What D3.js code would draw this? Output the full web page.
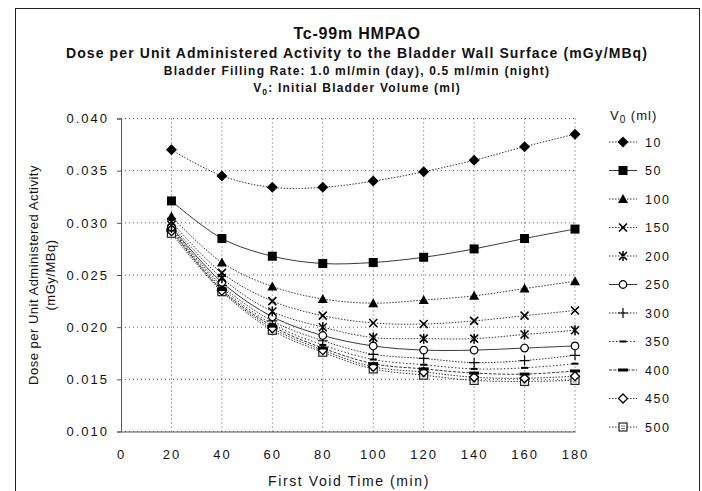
<!DOCTYPE html>
<html>
<head>
<meta charset="utf-8">
<script src="https://cdn.jsdelivr.net/npm/d3@7"></script>
<style>
  body { margin: 0; background: #fff; }
  svg { display: block; }
  text { font-family: "Liberation Sans", Arial, Helvetica, sans-serif; fill: #111; }
</style>
</head>
<body>
<svg id="chart" width="702" height="491"></svg>
<script>
// First void time (min) on the x axis
const voidTimes = [20, 40, 60, 80, 100, 120, 140, 160, 180];
// Initial bladder volumes V0 (ml), one curve each
const volumes = [10, 50, 100, 150, 200, 250, 300, 350, 400, 450, 500];

// Dose per unit administered activity (mGy/MBq), one array per V0
const dose10  = [0.0370, 0.0345, 0.0334, 0.0334, 0.0340, 0.0349, 0.0360, 0.0373, 0.0385];
const dose50  = [0.0321, 0.0285, 0.0268, 0.0261, 0.0262, 0.0267, 0.0275, 0.0285, 0.0294];
const dose100 = [0.0306, 0.0262, 0.0239, 0.0227, 0.0223, 0.0226, 0.0230, 0.0237, 0.0244];
const dose150 = [0.0301, 0.0252, 0.0225, 0.0211, 0.0204, 0.0203, 0.0206, 0.0211, 0.0216];
const dose200 = [0.0298, 0.0247, 0.0215, 0.0200, 0.0190, 0.0189, 0.0189, 0.0193, 0.0197];
const dose250 = [0.0296, 0.0243, 0.0210, 0.0192, 0.0182, 0.0178, 0.0178, 0.0180, 0.0182];
const dose300 = [0.0295, 0.0240, 0.0206, 0.0187, 0.0174, 0.0170, 0.0166, 0.0168, 0.0173];
const dose350 = [0.0294, 0.0238, 0.0203, 0.0183, 0.0169, 0.0164, 0.0160, 0.0161, 0.0165];
const dose400 = [0.0293, 0.0236, 0.0201, 0.0180, 0.0165, 0.0160, 0.0156, 0.0155, 0.0158];
const dose450 = [0.0292, 0.0235, 0.0199, 0.0178, 0.0162, 0.0157, 0.0152, 0.0151, 0.0153];
const dose500 = [0.0290, 0.0234, 0.0197, 0.0176, 0.0160, 0.0154, 0.0149, 0.0148, 0.0149];

const xTicks = [0, 20, 40, 60, 80, 100, 120, 140, 160, 180];
const yTicks = [0.010, 0.015, 0.020, 0.025, 0.030, 0.035, 0.040];

const doseByVolume = [dose10, dose50, dose100, dose150, dose200, dose250,
                      dose300, dose350, dose400, dose450, dose500];

// Marker and line style for each curve
const markerKinds = ["diamond", "square", "triangle", "x", "star", "circle",
                     "plus", "dash", "bar", "odiamond", "osquare"];
const lineDash = ["1.5,1.5", null, "1.5,1.5", "1.5,1.5", "1.5,1.5", null,
                  "1.5,1.5", "1.5,2", "3,1.5", "1.5,1.5", "1.5,1.5"];

const svg = d3.select("#chart");

// outer chart border
svg.append("rect")
  .attr("x", 15.5).attr("y", 8.5).attr("width", 684).attr("height", 500)
  .attr("fill", "none").attr("stroke", "#222").attr("stroke-width", 1);

const x = d3.scaleLinear().domain([0, 180]).range([121, 575]);
const y = d3.scaleLinear().domain([0.010, 0.040]).range([431.5, 118.5]);

// titles
const cx = 357;
svg.append("text").attr("x", cx).attr("y", 39).attr("text-anchor", "middle")
  .style("font-size", "16px").style("font-weight", "bold").style("letter-spacing", "0.8px")
  .text("Tc-99m HMPAO");
svg.append("text").attr("x", cx).attr("y", 58).attr("text-anchor", "middle")
  .style("font-size", "14px").style("font-weight", "bold").style("letter-spacing", "1.1px")
  .text("Dose per Unit Administered Activity to the Bladder Wall Surface (mGy/MBq)");
svg.append("text").attr("x", cx).attr("y", 75).attr("text-anchor", "middle")
  .style("font-size", "12px").style("font-weight", "bold").style("letter-spacing", "1.2px")
  .text("Bladder Filling Rate: 1.0 ml/min (day), 0.5 ml/min (night)");
const v0Line = svg.append("text").attr("x", cx).attr("y", 92).attr("text-anchor", "middle")
  .style("font-size", "12px").style("font-weight", "bold").style("letter-spacing", "1.2px");
v0Line.append("tspan").text("V");
v0Line.append("tspan").attr("dy", 3).style("font-size", "8.5px").text("0");
v0Line.append("tspan").attr("dy", -3).text(": Initial Bladder Volume (ml)");

// grid
const grid = svg.append("g").attr("stroke", "#444").attr("stroke-width", 0.9)
  .attr("stroke-dasharray", "1,3");
grid.selectAll("line.h").data(yTicks).join("line").attr("class", "h")
  .attr("x1", x(0)).attr("x2", x(180))
  .attr("y1", d => y(d)).attr("y2", d => y(d));
grid.selectAll("line.v").data(xTicks.filter(d => d > 0)).join("line").attr("class", "v")
  .attr("x1", d => x(d)).attr("x2", d => x(d))
  .attr("y1", y(0.010)).attr("y2", y(0.040));

// axes
const yAxis = svg.append("g").attr("transform", `translate(${x(0)},0)`)
  .call(d3.axisLeft(y).tickValues(yTicks).tickFormat(d3.format(".3f"))
    .tickSize(4).tickPadding(8));
yAxis.select(".domain").attr("stroke", "#555");
yAxis.selectAll(".tick line").attr("stroke", "#555");
yAxis.selectAll("text").style("font-size", "13px").style("letter-spacing", "2px")
  .attr("fill", "#111");

const xAxis = svg.append("g").attr("transform", `translate(0,${y(0.010)})`)
  .call(d3.axisBottom(x).tickValues(xTicks).tickSize(0).tickPadding(18));
xAxis.select(".domain").attr("stroke", "#555");
xAxis.selectAll("text").style("font-size", "13px").style("letter-spacing", "2px")
  .attr("fill", "#111");

// axis titles
svg.append("text").attr("x", 349).attr("y", 486).attr("text-anchor", "middle")
  .style("font-size", "14px").style("letter-spacing", "1.6px")
  .text("First Void Time (min)");
const yt = svg.append("g").attr("transform", `translate(0,${(y(0.010) + y(0.040)) / 2}) rotate(-90)`);
yt.append("text").attr("x", 0).attr("y", 38).attr("text-anchor", "middle")
  .style("font-size", "13px").style("letter-spacing", "0.5px")
  .text("Dose per Unit Administered Activity");
yt.append("text").attr("x", 0).attr("y", 55).attr("text-anchor", "middle")
  .style("font-size", "13px").style("letter-spacing", "0.5px")
  .text("(mGy/MBq)");

// marker drawing
function drawMarker(g, kind) {
  switch (kind) {
    case "diamond":
      g.append("path").attr("d", "M0,-5.5L5.5,0L0,5.5L-5.5,0Z").attr("fill", "#000"); break;
    case "square":
      g.append("rect").attr("x", -4.5).attr("y", -4.5).attr("width", 9).attr("height", 9).attr("fill", "#000"); break;
    case "triangle":
      g.append("path").attr("d", "M0,-5L5,4L-5,4Z").attr("fill", "#000"); break;
    case "x":
      g.append("path").attr("d", "M-4,-4L4,4M-4,4L4,-4").attr("stroke", "#000").attr("stroke-width", 1.6); break;
    case "star":
      g.append("path").attr("d", "M-4,-4L4,4M-4,4L4,-4M0,-5L0,5").attr("stroke", "#000").attr("stroke-width", 1.5); break;
    case "circle":
      g.append("circle").attr("r", 3.8).attr("fill", "#fff").attr("stroke", "#000").attr("stroke-width", 1.2); break;
    case "plus":
      g.append("path").attr("d", "M-5,0L5,0M0,-5L0,5").attr("stroke", "#000").attr("stroke-width", 1.2); break;
    case "dash":
      g.append("rect").attr("x", -3.5).attr("y", -1).attr("width", 7).attr("height", 2).attr("fill", "#000"); break;
    case "bar":
      g.append("rect").attr("x", -5).attr("y", -1.5).attr("width", 10).attr("height", 3).attr("fill", "#000"); break;
    case "odiamond":
      g.append("path").attr("d", "M0,-4.5L4.5,0L0,4.5L-4.5,0Z").attr("fill", "#fff").attr("stroke", "#000").attr("stroke-width", 1.3); break;
    case "osquare":
      g.append("rect").attr("x", -4).attr("y", -4).attr("width", 8).attr("height", 8).attr("fill", "#fff").attr("stroke", "#222").attr("stroke-width", 1.2);
      g.append("path").attr("d", "M-2,-1L2,-1M-2,1.5L2,1.5").attr("stroke", "#555").attr("stroke-width", 0.8); break;
  }
}

// curves
const line = d3.line().x((d, i) => x(voidTimes[i])).y(d => y(d)).curve(d3.curveCatmullRom.alpha(0.5));
const plot = svg.append("g");
doseByVolume.forEach((vals, k) => {
  plot.append("path").attr("d", line(vals)).attr("fill", "none")
    .attr("stroke", "#222").attr("stroke-width", 0.9)
    .attr("stroke-dasharray", lineDash[k]);
});
doseByVolume.slice().reverse().forEach((vals, rk) => {
  const k = doseByVolume.length - 1 - rk;
  vals.forEach((v, i) => {
    const g = plot.append("g").attr("transform", `translate(${x(voidTimes[i])},${y(v)})`);
    drawMarker(g, markerKinds[k]);
  });
});

// legend
const legendTitle = svg.append("text").attr("x", 610).attr("y", 120)
  .style("font-size", "13px").style("letter-spacing", "1px");
legendTitle.append("tspan").text("V");
legendTitle.append("tspan").attr("dy", 3).style("font-size", "10px").text("0");
legendTitle.append("tspan").attr("dy", -3).text(" (ml)");

const rowY = d3.scaleLinear().domain([0, volumes.length - 1]).range([142, 427]);
volumes.forEach((v, k) => {
  const g = svg.append("g").attr("transform", `translate(0,${rowY(k)})`);
  g.append("line").attr("x1", 609).attr("x2", 637).attr("y1", 0).attr("y2", 0)
    .attr("stroke", "#222").attr("stroke-width", 0.9).attr("stroke-dasharray", lineDash[k]);
  drawMarker(g.append("g").attr("transform", "translate(623,0)"), markerKinds[k]);
  g.append("text").attr("x", 645).attr("y", 4.5)
    .style("font-size", "12.5px").style("letter-spacing", "1.5px").text(v);
});
</script>
</body>
</html>
